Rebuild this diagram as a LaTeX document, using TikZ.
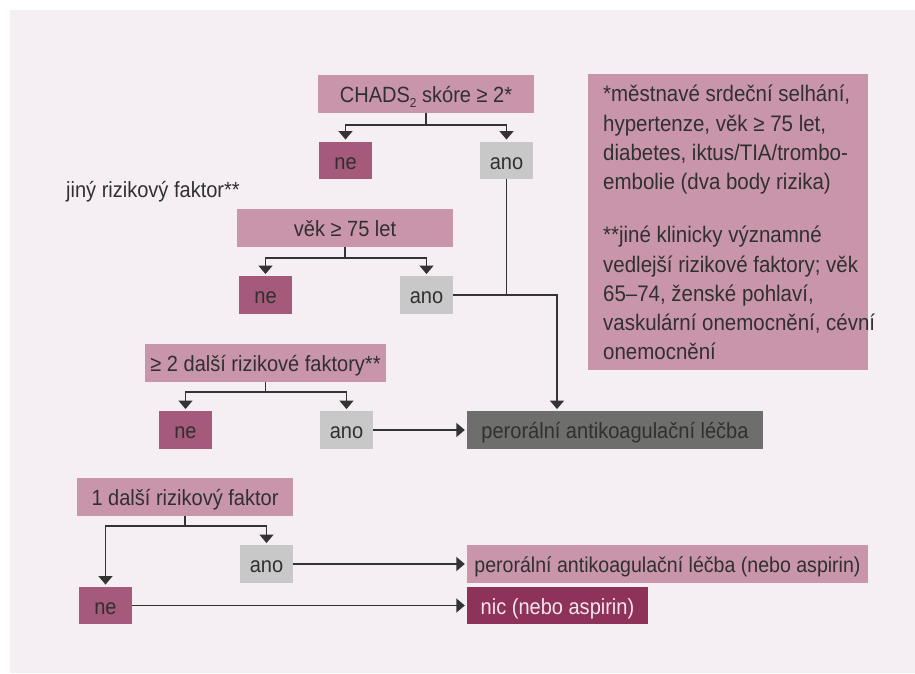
\documentclass[tikz,border=0pt]{standalone}
\usepackage{fontspec}
\setmainfont{Liberation Sans}[FakeStretch=0.91]
\usetikzlibrary{arrows.meta,calc}
\definecolor{bgc}{HTML}{F5EFF3}
\definecolor{mauve}{HTML}{C995AB}
\definecolor{neC}{HTML}{A65A7B}
\definecolor{anoC}{HTML}{C8C8C8}
\definecolor{darkC}{HTML}{6E6E6C}
\definecolor{nicC}{HTML}{8E3259}
\definecolor{txt}{HTML}{303030}
\definecolor{lineC}{HTML}{333333}
\definecolor{lightTxt}{HTML}{F3E6EC}
\tikzset{
 box/.style={rectangle, inner sep=0pt, minimum height=37.5pt, text height=20pt, text depth=2.4pt, text=txt, font=\fontsize{22}{26}\selectfont},
 qbox/.style={box, fill=mauve, minimum width=216pt},
 nebox/.style={box, fill=neC, minimum width=53pt},
 anobox/.style={box, fill=anoC, minimum width=53pt},
 conn/.style={draw=lineC, line width=1.5pt},
 arr/.style={conn, -{Triangle[width=14pt,length=8.5pt]}, shorten >=2pt},
 plain/.style={inner sep=0pt, text=txt, font=\fontsize{22}{26}\selectfont},
 noteline/.style={plain, anchor=base west, font=\fontsize{22.5}{29.4}\selectfont},
}
\begin{document}
\begin{tikzpicture}[x=1pt,y=-1pt]
\useasboundingbox (0,0) rectangle (915,673);
\fill[bgc] (10,10) rectangle (915,673);

% notes box
\node[rectangle, fill=mauve, minimum width=280pt, minimum height=296pt, inner sep=0pt] (notes) at (728,222) {};
\node[noteline] (n1) at (603,101.7) {*městnavé srdeční selhání,};
\node[noteline] (n2) at (603,131.0) {hypertenze, věk ≥ 75 let,};
\node[noteline] (n3) at (603,160.3) {diabetes, iktus/TIA/trombo-};
\node[noteline] (n4) at (603,189.6) {embolie (dva body rizika)};
\node[noteline] (n5) at (603,242.7) {**jiné klinicky významné};
\node[noteline] (n6) at (603,272.0) {vedlejší rizikové faktory; věk};
\node[noteline] (n7) at (603,301.3) {65–74, ženské pohlaví,};
\node[noteline] (n8) at (603,330.6) {vaskulární onemocnění, cévní};
\node[noteline] (n9) at (603,359.9) {onemocnění};

% level 1
\node[qbox] (chads) at (426,94) {CHADS\raisebox{-5pt}{\fontsize{13}{13}\selectfont 2} skóre ≥ 2*};
\node[nebox] (ne1) at (345.5,160.5) {ne};
\node[anobox] (ano1) at (506.5,160.5) {ano};
\coordinate (j1) at (426,125);
\draw[conn] (chads.south) -- (j1);
\draw[arr] (j1) -| (ne1.north);
\draw[arr] (j1) -| (ano1.north);

\node[plain, anchor=base west] (other) at (66,197) {jiný rizikový faktor**};

% level 2
\node[qbox] (vek) at (345,228) {věk ≥ 75 let};
\node[nebox] (ne2) at (265.5,295) {ne};
\node[anobox] (ano2) at (426.5,295) {ano};
\coordinate (j2) at (345,258);
\draw[conn] (vek.south) -- (j2);
\draw[arr] (j2) -| (ne2.north);
\draw[arr] (j2) -| (ano2.north);

% level 3
\node[box, fill=mauve, minimum width=241pt] (ge2) at (265.5,363) {≥ 2 další rizikové faktory**};
\node[nebox] (ne3) at (185.5,430) {ne};
\node[anobox] (ano3) at (346.5,430) {ano};
\coordinate (j3) at (265.5,392);
\draw[conn] (ge2.south) -- (j3);
\draw[arr] (j3) -| (ne3.north);
\draw[arr] (j3) -| (ano3.north);

\node[box, fill=darkC, minimum width=296pt] (oac) at (615,430) {perorální antikoagulační léčba};
\coordinate (k) at (557,295);
\draw[conn] (ano1.south) -- (ano1.south |- k);
\draw[arr] (ano2.east) -- (k) -- (k |- oac.north);
\draw[arr] (ano3.east) -- (oac.west);

% level 4
\node[qbox] (one) at (185,497) {1 další rizikový faktor};
\node[anobox] (ano4) at (266.5,564) {ano};
\node[nebox] (ne4) at (105.5,605.5) {ne};
\coordinate (j4) at (185,526);
\draw[conn] (one.south) -- (j4);
\draw[arr] (j4) -| (ano4.north);
\draw[arr] (j4) -| (ne4.north);

\node[box, fill=mauve, minimum width=401pt, font=\fontsize{21.5}{26}\selectfont] (oac2) at (667.5,564) {perorální antikoagulační léčba (nebo aspirin)};
\node[box, fill=nicC, minimum width=181pt, text=lightTxt] (nic) at (557.5,605.5) {nic (nebo aspirin)};
\draw[arr] (ano4.east) -- (oac2.west);
\draw[arr] (ne4.east) -- (nic.west);
\end{tikzpicture}
\end{document}
